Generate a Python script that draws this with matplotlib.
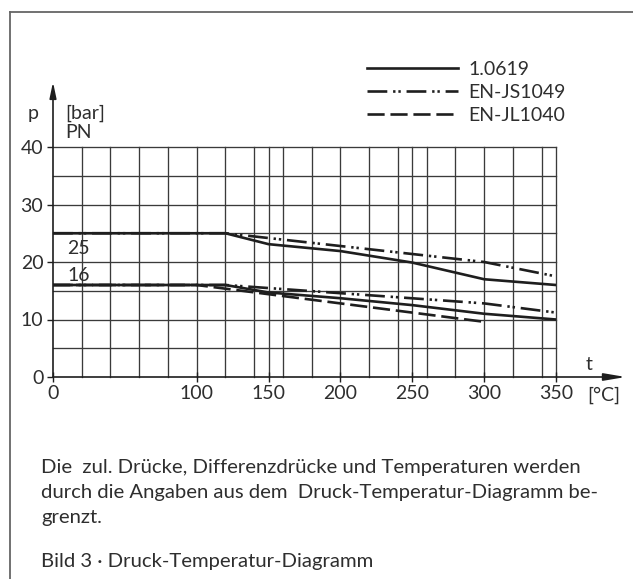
import matplotlib.pyplot as plt
from matplotlib.lines import Line2D

plt.rcParams['font.family'] = ['Lato', 'DejaVu Sans']

W, H = 633, 579

# temperature t [°C] and pressure p [bar]
t_1_0619 = [0, 120, 150, 200, 250, 300, 350]
p_1_0619_pn25 = [25, 25, 23.1, 21.9, 19.9, 17.0, 16.0]
p_1_0619_pn16 = [16, 16, 14.7, 13.7, 12.5, 11.0, 10.0]

t_js1049 = [0, 120, 300, 350]
p_js1049_pn25 = [25, 25, 20.0, 17.5]
p_js1049_pn16 = [16, 16, 12.8, 11.2]

t_jl1040 = [0, 100, 300]
p_jl1040_pn16 = [16, 16, 9.6]

x_ticks = [0, 100, 150, 200, 250, 300, 350]
y_ticks = [0, 10, 20, 30, 40]
x_grid = list(range(20, 350, 20)) + [150, 250, 350]
y_grid = list(range(5, 45, 5))

ink = '#1e1e1e'
txt = '#2e2e2e'
fs = 14


def fx(px):
    return px / W


def fy(py):
    return 1 - py / H


fig = plt.figure(figsize=(W / 100, H / 100), dpi=100)
ax = fig.add_axes([fx(53), fy(377), 503 / W, 230 / H])
ax.set_xlim(0, 350)
ax.set_ylim(0, 40)
for s in ax.spines.values():
    s.set_visible(False)

# grid
for g in x_grid:
    ax.axvline(g, color='#3a3a3a', lw=0.95, clip_on=False, zorder=1)
for g in y_grid:
    ax.axhline(g, color='#3a3a3a', lw=0.95, clip_on=False, zorder=1)

# curves
lw = 1.9
dashdotdot = (0, (7.5, 2.2, 0.9, 1.1, 0.9, 2.2))
dashed = (0, (6.5, 2.2))
ax.plot(t_js1049, p_js1049_pn25, color=ink, lw=lw, ls=dashdotdot, zorder=3)
ax.plot(t_js1049, p_js1049_pn16, color=ink, lw=lw, ls=dashdotdot, zorder=3)
ax.plot(t_jl1040, p_jl1040_pn16, color=ink, lw=lw, ls=dashed, zorder=3)
ax.plot(t_1_0619, p_1_0619_pn25, color=ink, lw=lw, zorder=4)
ax.plot(t_1_0619, p_1_0619_pn16, color=ink, lw=lw, zorder=4)

# axes arrows
ax.annotate('', xy=(0, 51.3), xytext=(0, 0), annotation_clip=False,
            arrowprops=dict(arrowstyle='-|>,head_length=0.95,head_width=0.2',
                            color=ink, lw=1.2, shrinkA=0, shrinkB=0,
                            mutation_scale=10))
ax.annotate('', xy=(398.5, 0), xytext=(0, 0), annotation_clip=False,
            arrowprops=dict(arrowstyle='-|>,head_length=1.3,head_width=0.22',
                            color=ink, lw=1.2, shrinkA=0, shrinkB=0,
                            mutation_scale=10))

ax.set_xticks(x_ticks)
ax.set_yticks(y_ticks)
ax.tick_params(axis='y', direction='out', length=4, width=1, pad=3,
               labelsize=fs, color=ink, labelcolor=txt)
ax.tick_params(axis='x', direction='inout', length=7, width=1, pad=2.5,
               labelsize=fs, color=ink, labelcolor=txt)

# labels inside the chart
ax.text(10, 22.4, '25', fontsize=fs, color=txt, ha='left', va='center')
ax.text(10, 17.7, '16', fontsize=fs, color=txt, ha='left', va='center')

fig.text(fx(33), fy(114), 'p', fontsize=fs, color=txt, ha='center', va='center')
fig.text(fx(65), fy(113), '[bar]', fontsize=fs, color=txt, ha='left', va='center')
fig.text(fx(65), fy(133), 'PN', fontsize=fs, color=txt, ha='left', va='center')
fig.text(fx(589), fy(365), 't', fontsize=fs, color=txt, ha='center', va='center')
fig.text(fx(604), fy(395), '[°C]', fontsize=fs, color=txt, ha='center', va='center')

# legend
handles = [Line2D([], [], color=ink, lw=lw),
           Line2D([], [], color=ink, lw=lw, ls=dashdotdot),
           Line2D([], [], color=ink, lw=lw, ls=dashed)]
fig.legend(handles, ['1.0619', 'EN-JS1049', 'EN-JL1040'], loc='upper left',
           bbox_to_anchor=(fx(367), fy(61)), frameon=False, fontsize=fs,
           handlelength=4.7, handletextpad=0.5, labelspacing=0.3,
           borderpad=0, borderaxespad=0, labelcolor=txt)

# outer frame
fig.add_artist(Line2D([fx(10), 1], [fy(12), fy(12)], color='#666666', lw=1.3))
fig.add_artist(Line2D([fx(10), fx(10)], [fy(12), 0], color='#666666', lw=1.3))

# caption text
para = ['Die  zul. Drücke, Differenzdrücke und Temperaturen werden',
        'durch die Angaben aus dem  Druck-Temperatur-Diagramm be-',
        'grenzt.']
for i, line in enumerate(para):
    fig.text(fx(41), fy(468 + 24.5 * i), line, fontsize=14.6, color=txt,
             ha='left', va='center')
fig.text(fx(41), fy(562), 'Bild 3 · Druck-Temperatur-Diagramm', fontsize=14.6,
         color=txt, ha='left', va='center')

fig.savefig('out.png', dpi=100)
